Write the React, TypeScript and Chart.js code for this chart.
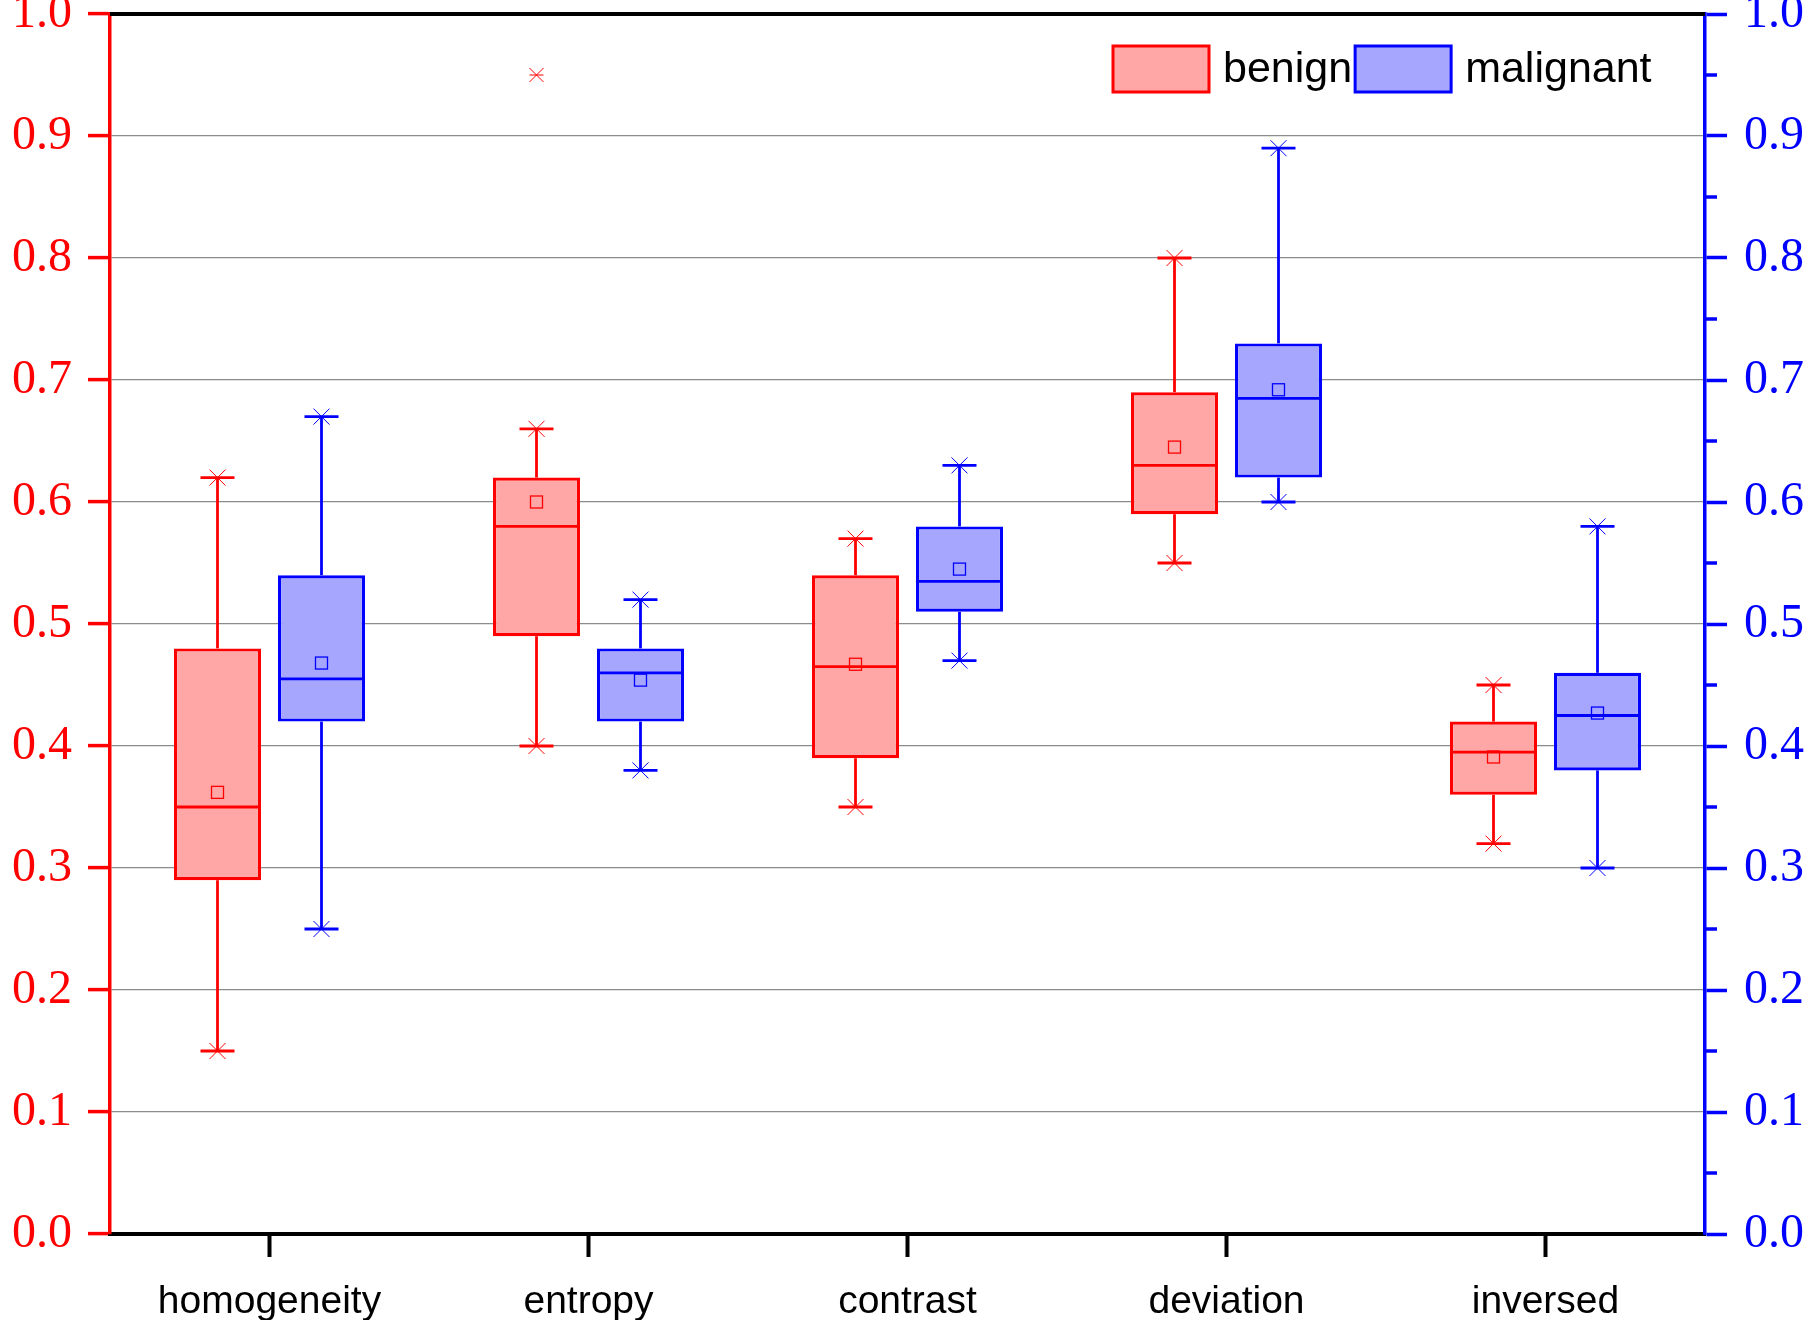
import React, { useEffect, useRef } from "react";
import { Chart, registerables } from "chart.js";

Chart.register(...registerables);

const categories = ["homogeneity", "entropy", "contrast", "deviation", "inversed"];
const yTicks = [0, 0.1, 0.2, 0.3, 0.4, 0.5, 0.6, 0.7, 0.8, 0.9, 1.0];

// benign
const benignMin = [0.15, 0.4, 0.35, 0.55, 0.32];
const benignQ1 = [0.29, 0.49, 0.39, 0.59, 0.36];
const benignMedian = [0.35, 0.58, 0.465, 0.63, 0.395];
const benignQ3 = [0.48, 0.62, 0.54, 0.69, 0.42];
const benignMax = [0.62, 0.66, 0.57, 0.8, 0.45];
const benignMean = [0.362, 0.6, 0.467, 0.645, 0.391];
const benignOutliers = [[], [0.95], [], [], []];

// malignant
const malignantMin = [0.25, 0.38, 0.47, 0.6, 0.3];
const malignantQ1 = [0.42, 0.42, 0.51, 0.62, 0.38];
const malignantMedian = [0.455, 0.46, 0.535, 0.685, 0.425];
const malignantQ3 = [0.54, 0.48, 0.58, 0.73, 0.46];
const malignantMax = [0.67, 0.52, 0.63, 0.89, 0.58];
const malignantMean = [0.468, 0.454, 0.545, 0.692, 0.427];
const malignantOutliers = [[], [], [], [], []];

const series = [
  {
    label: "benign",
    fill: "#FFA6A6",
    stroke: "#FF0000",
    min: benignMin,
    q1: benignQ1,
    median: benignMedian,
    q3: benignQ3,
    max: benignMax,
    mean: benignMean,
    outliers: benignOutliers,
  },
  {
    label: "malignant",
    fill: "#A6A6FF",
    stroke: "#0000FF",
    min: malignantMin,
    q1: malignantQ1,
    median: malignantMedian,
    q3: malignantQ3,
    max: malignantMax,
    mean: malignantMean,
    outliers: malignantOutliers,
  },
];

const SANS = "'Liberation Sans', Arial, sans-serif";
const SERIF = "'Liberation Serif', 'Times New Roman', serif";

const line = (ctx: CanvasRenderingContext2D, x1: number, y1: number, x2: number, y2: number) => {
  ctx.beginPath();
  ctx.moveTo(x1, y1);
  ctx.lineTo(x2, y2);
  ctx.stroke();
};

const cross = (ctx: CanvasRenderingContext2D, x: number, y: number, r: number) => {
  line(ctx, x - r, y - r, x + r, y + r);
  line(ctx, x - r, y + r, x + r, y - r);
};

// whiskers, medians, means and outliers on top of the floating bars
const boxPlotPlugin = {
  id: "boxPlotExtras",
  afterDatasetsDraw(chart: any) {
    const { ctx } = chart;
    const y = chart.scales.y;
    const py = (v: number) => y.getPixelForValue(v);
    series.forEach((s, d) => {
      const meta = chart.getDatasetMeta(d);
      meta.data.forEach((bar: any, i: number) => {
        const x = bar.x;
        const w = bar.width;
        ctx.save();
        ctx.strokeStyle = s.stroke;
        ctx.lineWidth = 2.8;
        line(ctx, x, py(s.q3[i]), x, py(s.max[i]));
        line(ctx, x, py(s.q1[i]), x, py(s.min[i]));
        line(ctx, x - 17, py(s.max[i]), x + 17, py(s.max[i]));
        line(ctx, x - 17, py(s.min[i]), x + 17, py(s.min[i]));
        line(ctx, x - w / 2, py(s.median[i]), x + w / 2, py(s.median[i]));
        ctx.lineWidth = 1;
        cross(ctx, x, py(s.max[i]), 8);
        cross(ctx, x, py(s.min[i]), 8);
        ctx.lineWidth = 1.3;
        ctx.strokeRect(x - 6, py(s.mean[i]) - 6, 12, 12);
        s.outliers[i].forEach((v: number) => {
          ctx.lineWidth = 1;
          cross(ctx, x, py(v), 7);
          line(ctx, x - 7, py(v), x + 7, py(v));
        });
        ctx.restore();
      });
    });
  },
  afterDraw(chart: any) {
    const { ctx, chartArea } = chart;
    const y2 = chart.scales.y2;
    ctx.save();
    // top frame line
    ctx.strokeStyle = "#000";
    ctx.lineWidth = 4;
    line(ctx, chartArea.left, chartArea.top, chartArea.right, chartArea.top);

    // minor ticks on the right axis
    ctx.strokeStyle = "#0000FF";
    ctx.lineWidth = 3.5;
    yTicks.slice(0, -1).forEach((v) => {
      const py = y2.getPixelForValue(v + 0.05);
      line(ctx, chartArea.right, py, chartArea.right + 12, py);
    });

    // legend
    ctx.font = `43px ${SANS}`;
    ctx.textBaseline = "middle";
    ctx.textAlign = "left";
    let lx = chartArea.left + 1003;
    const ly = chartArea.top + 32;
    series.forEach((s) => {
      ctx.fillStyle = s.fill;
      ctx.fillRect(lx, ly, 96, 46);
      ctx.strokeStyle = s.stroke;
      ctx.lineWidth = 3;
      ctx.strokeRect(lx, ly, 96, 46);
      ctx.fillStyle = "#000";
      ctx.fillText(s.label, lx + 110, ly + 24);
      lx = lx + 110 + ctx.measureText(s.label).width + 3;
    });
    ctx.restore();
  },
};

const App = () => {
  const canvasRef = useRef<HTMLCanvasElement>(null);
  const chartRef = useRef<Chart | null>(null);

  useEffect(() => {
    const canvas = canvasRef.current;
    if (!canvas) return;
    if (chartRef.current) chartRef.current.destroy();

    chartRef.current = new Chart(canvas, {
      type: "bar",
      data: {
        labels: categories,
        datasets: series.map((s) => ({
          label: s.label,
          data: categories.map((_, i) => [s.q1[i], s.q3[i]]),
          backgroundColor: s.fill,
          borderColor: s.stroke,
          borderWidth: 3.2,
          borderSkipped: false,
          categoryPercentage: 0.652,
          barPercentage: 0.837,
          yAxisID: "y",
        })),
      },
      options: {
        responsive: true,
        maintainAspectRatio: false,
        animation: false,
        layout: { padding: { top: 14, left: 0, right: 0, bottom: 0 } },
        plugins: {
          legend: { display: false },
          tooltip: { enabled: false },
        },
        scales: {
          x: {
            type: "category",
            offset: true,
            grid: {
              offset: false,
              drawOnChartArea: false,
              drawTicks: true,
              tickLength: 23,
              tickColor: "#000",
              tickWidth: 4,
            },
            border: { color: "#000", width: 4 },
            ticks: { color: "#000", font: { family: SANS, size: 39 }, padding: 22 },
            afterFit: (scale: any) => {
              scale.height = 86;
              scale.paddingLeft = 0;
              scale.paddingRight = 0;
            },
          },
          y: {
            position: "left",
            min: 0,
            max: 1,
            afterBuildTicks: (scale: any) => {
              scale.ticks = yTicks.map((v) => ({ value: v }));
            },
            grid: {
              color: (c: any) =>
                c.tick && (c.tick.value === 0 || c.tick.value === 1) ? "rgba(0,0,0,0)" : "#8C8C8C",
              lineWidth: 1.2,
              tickColor: "#FF0000",
              tickWidth: 3.5,
              tickLength: 22,
            },
            border: { color: "#FF0000", width: 3.5 },
            ticks: {
              color: "#FF0000",
              font: { family: SERIF, size: 48 },
              padding: 16,
              callback: (v: any) => Number(v).toFixed(1),
            },
            afterFit: (scale: any) => {
              scale.width = 110;
              scale.paddingTop = 0;
              scale.paddingBottom = 0;
            },
          },
          y2: {
            position: "right",
            min: 0,
            max: 1,
            afterBuildTicks: (scale: any) => {
              scale.ticks = yTicks.map((v) => ({ value: v }));
            },
            grid: {
              drawOnChartArea: false,
              tickColor: "#0000FF",
              tickWidth: 3.5,
              tickLength: 22,
            },
            border: { color: "#0000FF", width: 3.5 },
            ticks: {
              color: "#0000FF",
              font: { family: SERIF, size: 48 },
              padding: 17,
              callback: (v: any) => Number(v).toFixed(1),
            },
            afterFit: (scale: any) => {
              scale.width = 112;
              scale.paddingTop = 0;
              scale.paddingBottom = 0;
            },
          },
        },
      },
      plugins: [boxPlotPlugin],
    } as any);

    return () => {
      chartRef.current?.destroy();
      chartRef.current = null;
    };
  }, []);

  return (
    <div style={{ position: "absolute", left: 0, top: 0, width: "1817px", height: "1320px", background: "#fff" }}>
      <canvas ref={canvasRef} />
    </div>
  );
};

export default App;
